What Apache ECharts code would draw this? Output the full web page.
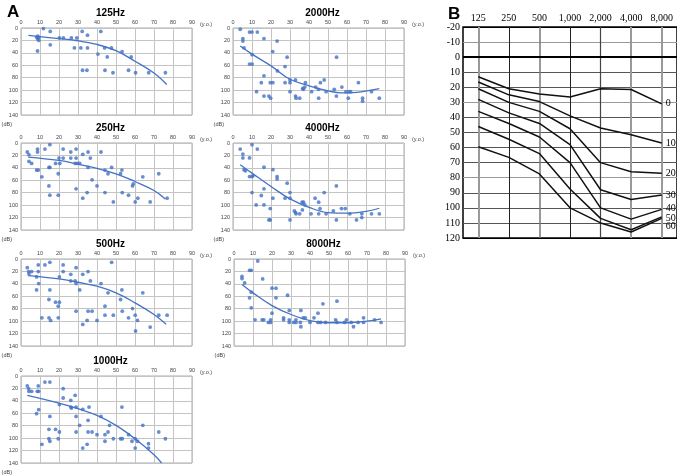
<!DOCTYPE html>
<html>
<head>
<meta charset="utf-8">
<script src="https://cdn.jsdelivr.net/npm/echarts@6/dist/echarts.min.js"></script>
<style>html,body{margin:0;padding:0;background:#fff}#c{width:677px;height:475px}</style>
</head>
<body>
<div id="c"></div>
<script>
// ---------- Panel A data: [age (y.o.), threshold (dB)] ----------
const pts125 = [[11.8,1],[8.7,37],[8.3,15],[8.8,13],[9.4,15],[8.8,17.5],[9.4,20],[15.4,5.5],[15.4,27],[20.2,16],[22.3,16],[26.5,16],[29.4,16],[28.1,32],[31.5,32],[32.2,5.5],[35,11.5],[35,32],[32.4,68],[34.7,68],[42,5.5],[40.5,42],[44,32],[47.6,32],[45.4,46.5],[44.2,68],[48.4,72],[53.2,38],[58,46.5],[56.6,68],[60.3,72],[67.2,72],[76,72]];
const trend125 = [[3.9,12],[20,17],[30,20.5],[40,26.5],[50,36.5],[60,53.5],[70,72.5],[76.7,91]];

const pts250 = [[3.3,14.5],[4.2,18.8],[4.2,29.6],[5.6,32.8],[8.7,9.7],[8.7,14.5],[8.2,43.6],[9.1,43.6],[11,54.4],[12.6,9.7],[15.2,2.7],[14.7,39.3],[15.2,39.3],[14.7,69],[15.2,84],[18.2,32.8],[20.4,32.8],[20,24.2],[19.6,49.5],[19.6,84],[22.2,9.7],[22.2,24.2],[26.2,14.5],[26.2,24.2],[28.5,32.8],[29,9.7],[29,24.2],[29,73.8],[29.7,32.8],[30.9,32.8],[32.5,18.3],[32.5,88.8],[34.8,79.7],[35.3,14.5],[35.3,39.3],[36.5,24.2],[37.4,59.2],[40,69],[42.1,14.5],[44.2,43.6],[44.2,79.7],[45.8,49.5],[47.7,39.3],[48.6,94.8],[52.4,49.5],[53.1,43.6],[53.3,79.7],[56.6,84],[58.7,69],[59.1,65.7],[60.1,94.8],[61.5,88.8],[64.1,54.4],[68,94.8],[72.5,49.5],[76.9,88.8]];
const trend250 = [[3.8,22.6],[20,28],[30,34],[40,41],[50,49.5],[60,62],[70,76.5],[75.9,90]];

const pts500 = [[3.3,13.9],[4,20.3],[4.2,24],[5.6,20.3],[9.1,9.6],[9.1,20.3],[8.2,28.9],[9.3,39.6],[8.2,49.7],[12.6,9.6],[15.2,5.3],[15.2,49.7],[14.7,65.2],[11,94.6],[14.7,94.6],[15.6,98.9],[18.2,69.5],[20.2,69.5],[19.6,75.9],[19.6,94.6],[20.2,28.9],[22.2,9.6],[22.2,20.3],[26.2,24.6],[26.2,35.3],[28.5,35.3],[29,13.9],[29,39.6],[29,83.9],[30.9,49.7],[32.5,24.6],[32.5,105.3],[34.8,98.9],[35.3,20.3],[35.3,83.9],[37.4,83.9],[36.5,35.3],[40,98.9],[42.1,39.6],[44.2,75.9],[44.2,90.4],[45.8,54.5],[47.7,5.3],[48.6,90.4],[52.4,65.2],[53.1,49.7],[53.3,83.9],[56.6,94.6],[58.7,79.7],[60.1,90.4],[61.3,98.9],[60.3,115.9],[64.1,54.5],[68,109.6],[72.5,90.4],[76.9,90.4]];
const trend500 = [[3.8,26.7],[20,32],[30,37.4],[40,43.8],[50,54.5],[60,70.5],[70,89.3],[76.4,105]];

const pts1000 = [[3.3,16],[4,20.4],[4.2,24.7],[5.6,24.7],[8.6,24.7],[9.3,24.7],[9.1,16],[9.3,54.2],[8.2,60.6],[11,110],[12.6,9.7],[15.2,9.7],[15.2,65],[14.7,85.8],[14.7,101],[15.2,105],[18.2,85.8],[19.6,101],[20.2,46],[20.2,90.1],[22.2,20.4],[22.2,35.4],[26.2,39.2],[26.2,50],[26.6,51.5],[28.5,31.1],[29,50],[29,65],[29,90.1],[30.9,79.4],[32.5,53.6],[32.5,116],[34.8,110],[35.3,71.4],[35.3,90.1],[37.4,90.1],[35.8,50],[40,94.4],[42.1,65],[44.2,94.4],[44.2,105],[45.8,90.1],[46.6,79.4],[48.6,101],[52.4,101],[53.1,50],[53.3,101],[56.6,94.4],[58.4,105],[60.1,101],[60.1,116],[61.3,105],[64.1,79.4],[67.1,109],[67.1,116],[72.5,90.1],[76,101]];
const trend1000 = [[3.3,31],[20,43.5],[30,52.6],[40,63.3],[50,79.4],[60,101],[70,126.6],[74,140]];

const pts2000 = [[3.8,2],[5.2,17],[5.2,21],[5.8,32],[8.7,6.5],[10,6.5],[12.8,6.5],[16.3,17],[23.2,21],[10,43],[8.7,58],[10.1,58],[20.9,38],[28.5,47],[27.4,62],[23.4,69],[16.3,77],[14.9,88],[19.6,88],[21,88],[12.4,102.5],[16.3,109.6],[18.9,109.6],[19.8,113],[27.4,88],[30,83.5],[30,88],[30,102.5],[32.9,83.5],[32.9,109.6],[33.2,113],[35.1,113],[37,98.7],[37.8,95],[36.7,97],[38.1,88],[41.4,102.5],[43.5,95],[45,98.7],[45.1,113],[46,88],[48,83.5],[49,102.5],[53.3,98.7],[54.5,47],[54.4,109.6],[57.3,95],[59.4,102.5],[61,102.5],[60.7,113],[61.9,102.5],[66,88],[68.2,113],[68.2,117.7],[72.9,102.5],[77,113]];
const trend2000 = [[3.8,29],[10,42],[20,61],[30,82.5],[40,93],[50,101],[57,104.5],[65,103.5],[77,97.5]];

const pts4000 = [[3.8,9.7],[10,2.7],[12.8,9.7],[5.2,17.8],[5.2,24],[8.7,24],[5.8,43],[6.5,44.7],[8.7,54],[10,54],[10.5,52.8],[16.3,39],[21,43],[23.2,54],[23.2,58],[28.5,64.6],[16.3,73.8],[10,79.7],[14.9,84.5],[21,88.8],[27.4,88.8],[30,79.7],[30,88.8],[12.2,99.6],[16.3,99.6],[19.6,105.5],[18.9,123.8],[19.6,123.8],[30,123.8],[32.3,109.3],[32.9,112],[33.2,114],[35.1,114],[36.5,107.7],[36.4,95.3],[37.1,95.3],[37.8,99.6],[41.1,114],[43.2,88.8],[45.1,95.3],[45.8,105.5],[45.1,114],[48,79.7],[49,114],[52.8,109.3],[54.4,69],[54.4,123.8],[57.1,105.5],[59.1,105.5],[61.5,114],[65,123.8],[67.8,114],[67.8,120],[72.9,114],[77,114]];
const trend4000 = [[3.8,35],[10,48.5],[20,70],[30,90],[40,103.5],[50,112],[60,113],[70,110],[77,105]];

const pts8000 = [[4.2,27.8],[4.2,31.5],[5.6,38.5],[8.2,18.2],[9.1,18.2],[8.2,62.5],[9.1,53.4],[9.1,78.6],[12.5,3.2],[15.1,32],[11.1,97.8],[14.8,97.8],[15.7,97.8],[18.1,102],[19.3,97.8],[19.3,102],[20,47],[20,87.1],[22.1,47],[22.1,62.5],[26.1,94.6],[26.1,97.8],[28.2,58.3],[29.1,82.8],[29.1,97.8],[29.1,102],[31.4,102],[32.6,97.8],[32.6,102],[34.9,102],[35.2,82.8],[35.2,109],[36.4,94.6],[37.5,94.6],[40,102],[42.1,94.6],[44.2,87.1],[44.2,102],[45.6,102],[46.8,72.2],[48.2,102],[53.5,97.8],[54.2,67.8],[54.2,102],[58.2,102],[59.2,97.8],[61.7,102],[62.9,109],[65.3,102],[68.2,94.6],[68.2,102],[74,97.8],[77.4,102]];
const trend8000 = [[4.2,41],[10,54.5],[20,75],[30,89.3],[40,99],[50,102.6],[60,102.6],[70,100],[77.4,96.2]];

// ---------- Panel B data ----------
const freqLabels = ['125','250','500','1,000','2,000','4,000','8,000'];
const curveNames = ['0','10','20','30','40','50','60'];
const curve0  = [13, 21, 24.5, 26.5, 21, 21.5, 31];
const curve10 = [16.5, 25, 29.5, 39, 47, 51.5, 57];
const curve20 = [21, 30, 36, 47.5, 70, 76, 77];
const curve30 = [28, 37, 44, 58, 88, 94.5, 91.5];
const curve40 = [36, 44, 53, 70, 100, 107.5, 101];
const curve50 = [46, 54.5, 64, 87.5, 107, 114.5, 106];
const curve60 = [59.5, 66.5, 77.5, 100, 110, 116, 107];

// ---------- layout ----------
const panels = [
  {title:'125Hz',  pts:pts125,  trend:trend125,  left:21,  top:28},
  {title:'2000Hz', pts:pts2000, trend:trend2000, left:233, top:28},
  {title:'250Hz',  pts:pts250,  trend:trend250,  left:21,  top:143},
  {title:'4000Hz', pts:pts4000, trend:trend4000, left:233, top:143},
  {title:'500Hz',  pts:pts500,  trend:trend500,  left:21,  top:259},
  {title:'8000Hz', pts:pts8000, trend:trend8000, left:234, top:259},
  {title:'1000Hz', pts:pts1000, trend:trend1000, left:21,  top:376}
];
const PW = 171, PH = 87;
const blue = '#4472C4';
const sans = 'Liberation Sans, Arial, sans-serif';
const serif = 'Liberation Serif, Times New Roman, serif';

const grids = [], xAxes = [], yAxes = [], series = [], titles = [];
titles.push({text:'A', left:2, top:-1, textStyle:{fontSize:17, fontWeight:'bold', fontFamily:sans, color:'#000'}});
titles.push({text:'B', left:443, top:1, textStyle:{fontSize:17, fontWeight:'bold', fontFamily:sans, color:'#000'}});

panels.forEach((p, i) => {
  grids.push({left:p.left, top:p.top, width:PW, height:PH, show:true, borderColor:'#aaa', borderWidth:1, containLabel:false});
  titles.push({text:p.title, left:p.left + PW/2 - 1, top:p.top - 25, textAlign:'center',
    textStyle:{fontSize:10, fontWeight:'bold', fontFamily:sans, color:'#000'}});
  xAxes.push({gridIndex:i, type:'value', position:'top', min:0, max:90, interval:10,
    axisLine:{show:false}, axisTick:{show:false},
    axisLabel:{fontSize:5.5, color:'#444', margin:3, fontFamily:sans},
    splitLine:{lineStyle:{color:'#c4c4c4', width:1, type:'solid'}},
    name:'(y.o.)', nameLocation:'end', nameGap:8,
    nameTextStyle:{fontSize:5.5, color:'#444', fontFamily:sans, verticalAlign:'bottom', padding:[0,0,1,0]}});
  yAxes.push({gridIndex:i, type:'value', inverse:true, min:0, max:140, interval:20,
    axisLine:{show:false}, axisTick:{show:false},
    axisLabel:{fontSize:5.5, color:'#444', margin:3, fontFamily:sans},
    splitLine:{lineStyle:{color:'#c4c4c4', width:1, type:'solid'}},
    name:'(dB)', nameLocation:'end', nameGap:6,
    nameTextStyle:{fontSize:5.5, color:'#444', fontFamily:sans, align:'right', padding:[0,9,0,0]}});
  series.push({type:'scatter', xAxisIndex:i, yAxisIndex:i, data:p.pts, symbolSize:3.8,
    itemStyle:{color:blue}, silent:true});
  series.push({type:'line', xAxisIndex:i, yAxisIndex:i, data:p.trend, smooth:0.4, showSymbol:false,
    lineStyle:{color:blue, width:1.3, type:'solid'}, silent:true, z:3});
});

// Panel B
const bi = panels.length;
grids.push({left:463, top:27, width:214, height:211, show:true, borderColor:'#000', borderWidth:1.5});
xAxes.push({gridIndex:bi, type:'category', data:freqLabels, position:'top', boundaryGap:true,
  axisLine:{show:false}, axisTick:{show:false}, splitLine:{show:false},
  axisLabel:{fontSize:10, color:'#000', margin:4, fontFamily:serif}});
const hColors = ['#000','#999','#000','#555','#555','#999','#555','#555','#555','#555','#999','#555','#555','#555','#000'];
yAxes.push({gridIndex:bi, type:'value', inverse:true, min:-20, max:120, interval:10,
  axisLine:{show:false}, axisTick:{show:false},
  axisLabel:{fontSize:10, color:'#000', margin:3, fontFamily:serif},
  splitLine:{lineStyle:{color:hColors, width:1.2, type:'solid'}}});
const vStyle = [
  {color:'#999', width:2, type:'solid'},{color:'#222', width:1, type:'solid'},{color:'#777', width:1.5, type:'solid'},
  {color:'#222', width:1, type:'solid'},{color:'#444', width:1.2, type:'solid'},{color:'#999', width:2, type:'solid'},
  {color:'#999', width:2, type:'solid'}];
const curves = [curve0, curve10, curve20, curve30, curve40, curve50, curve60];
const labelOffsets = [[0,0],[0,0],[0,0],[0,0],[0,-1],[0,1],[0,8]];
curves.forEach((c, k) => {
  const s = {type:'line', name:curveNames[k], xAxisIndex:bi, yAxisIndex:bi, data:c, showSymbol:false,
    lineStyle:{color:'#111', width:1.5, type:'solid'}, silent:true, z:5,
    endLabel:{show:true, formatter:curveNames[k], fontSize:10, fontFamily:serif, color:'#000',
      distance:4, offset:labelOffsets[k]}};
  if (k === 0) {
    s.markLine = {silent:true, symbol:'none', animation:false, label:{show:false}, z:1,
      lineStyle:{type:'solid'},
      data: freqLabels.map((f, j) => ({xAxis:f, lineStyle:vStyle[j]}))
        .concat([{yAxis:0, lineStyle:{color:'#000', width:2, type:'solid'}}])};
  }
  series.push(s);
});

const chart = echarts.init(document.getElementById('c'), null, {renderer:'canvas'});
chart.setOption({
  animation:false,
  backgroundColor:'#fff',
  title:titles, grid:grids, xAxis:xAxes, yAxis:yAxes, series:series
});
</script>
</body>
</html>
